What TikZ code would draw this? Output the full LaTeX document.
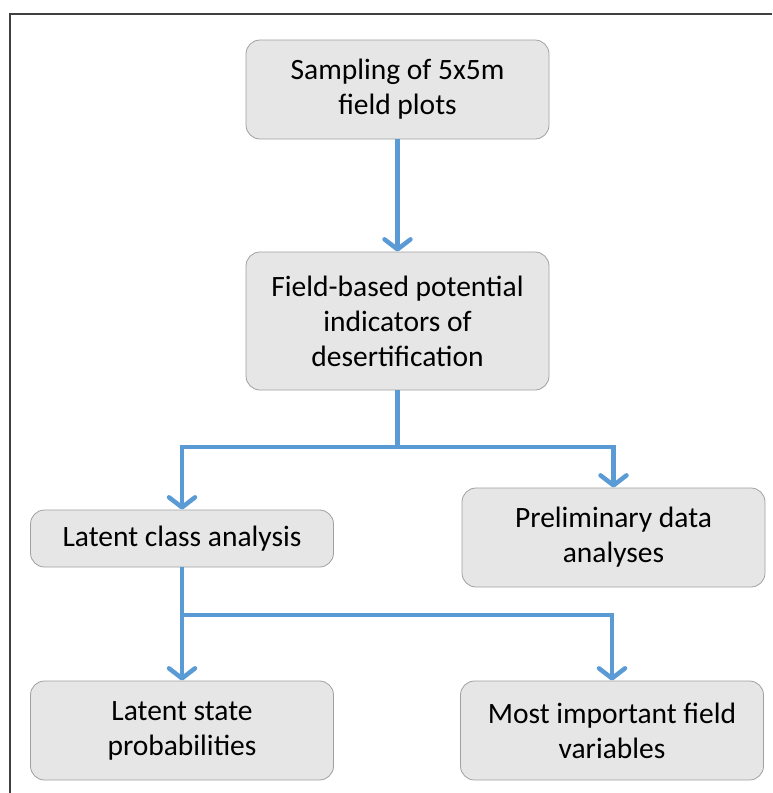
\documentclass[tikz,border=0pt]{standalone}
\usepackage{fontspec}
\setmainfont{Carlito}
\usetikzlibrary{positioning, arrows.meta}
\definecolor{flowblue}{RGB}{91, 155, 213}
\definecolor{boxfill}{RGB}{231, 230, 230}
\definecolor{boxline}{RGB}{160, 160, 160}
\definecolor{framegray}{RGB}{64, 64, 64}

\begin{document}
\begin{tikzpicture}[x=1pt, y=-1pt,
          stepbox/.style={draw=boxline, line width=0.8pt, fill=boxfill, rounded corners=14pt, align=center, font=\fontsize{29.5}{35}\selectfont, minimum width=303pt, minimum height=99pt, inner sep=2pt},
          flowarrow/.style={-{Straight Barb[length=10pt, width=26pt, round]}, line width=4.5pt, flowblue}
        ]
          \useasboundingbox (0,0) rectangle (772,793);
          % outer frame (only left and top edges visible)
          \draw[framegray, line width=2pt] (9.5,793) -- (9.5,13.5) -- (772,13.5);

          \node[stepbox] (samp) at (397.5, 89.5) {Sampling of 5x5m\\field plots};
          \node[stepbox, minimum height=138pt] (ind) at (397.5, 321) {Field-based potential\\indicators of\\desertification};
          \node[stepbox, minimum height=57pt] (lca) at (182, 538.5) {Latent class analysis};
          \node[stepbox] (pda) at (613.5, 537.5) {Preliminary data\\analyses};
          \node[stepbox] (lsp) at (182, 730.5) {Latent state\\probabilities};
          \node[stepbox] (mif) at (612, 730.5) {Most important field\\variables};

          \coordinate (split1) at (397.5, 447);
          \coordinate (split2) at (182, 615);

          \draw[flowarrow] (samp) -- (ind);
          \draw[flowarrow] (ind.south) -- (split1) -| (lca.north);
          \draw[flowarrow] (split1) -| (pda.north);
          \draw[flowarrow] (lca.south) -- (lsp.north);
          \draw[flowarrow] (split2) -| (mif.north);
        \end{tikzpicture}
\end{document}
